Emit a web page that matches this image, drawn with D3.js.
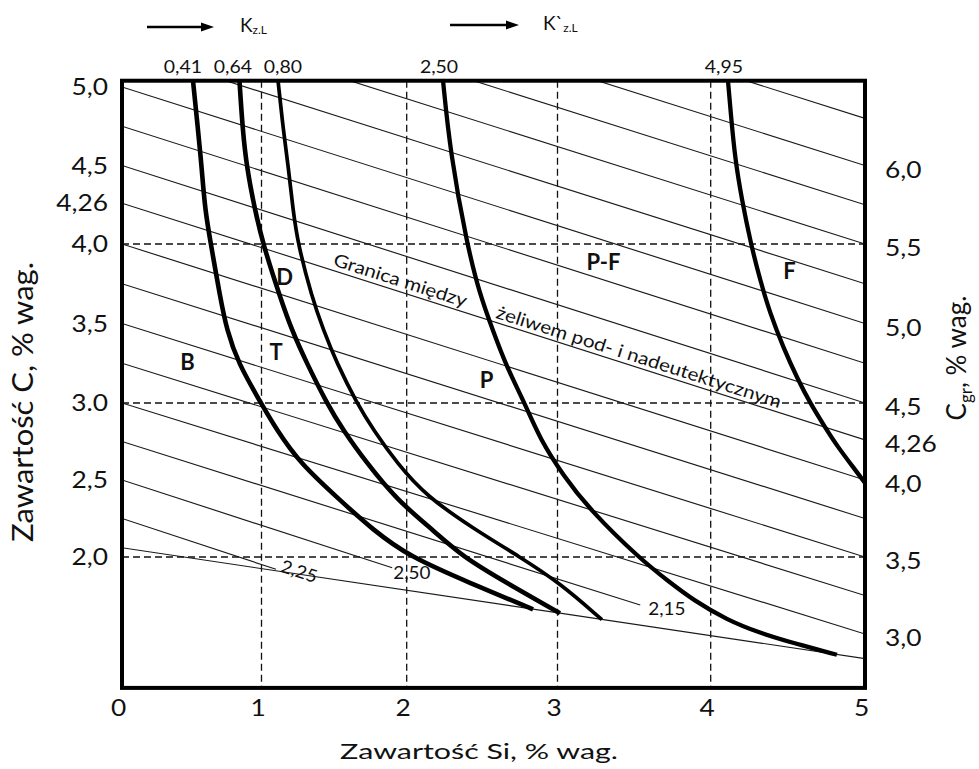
<!DOCTYPE html>
<html>
<head>
<meta charset="utf-8">
<script src="https://cdn.jsdelivr.net/npm/d3@7"></script>
<style>
  html, body { margin: 0; padding: 0; background: #fff; }
  svg { display: block; font-family: Lato, "Open Sans", sans-serif; }
</style>
</head>
<body>
<svg id="chart" width="979" height="769"></svg>
<script>
// ---- axes ----
const siTicks = [0, 1, 2, 3, 4, 5];
const siTickLabels = ["0", "1", "2", "3", "4", "5"];
const cTicks = [5.0, 4.5, 4.26, 4.0, 3.5, 3.0, 2.5, 2.0];
const cTickLabels = ["5,0", "4,5", "4,26", "4,0", "3,5", "3.0", "2,5", "2,0"];
const cgrTicks = [6.0, 5.5, 5.0, 4.5, 4.26, 4.0, 3.5, 3.0];
const cgrTickLabels = ["6,0", "5,5", "5,0", "4,5", "4,26", "4,0", "3,5", "3,0"];
const cgrSiCoef = 0.3;            // Cgr = C + 0.3 * Si

// ---- dashed reference grid ----
const siGrid = [1, 2, 3, 4];
const cGrid = [4.0, 3.0, 2.0];

// ---- lines of constant Cgr ----
const isoCgr = [6.3, 6.0, 5.75, 5.5, 5.25, 5.0, 4.75, 4.5, 4.26, 4.0, 3.75, 3.5, 3.25, 3.0, 2.75, 2.5, 2.25];
// short lines that stop at their value label (Cgr -> Si of the end)
const isoShortCgr = [2.75, 2.5, 2.25];
const isoShortEndSi = [3.54, 1.9, 1.1];
const isoShortLabels = ["2,15", "2,50", "2,25"];

// lower boundary of the field (Si, C)
const lowerBoundary = [[0, 2.06], [5, 1.34]];

// ---- K z.L curves (Si, C) ----
const kLabels = ["0,41", "0,64", "0,80", "2,50", "4,95"];
const kCurve041 = [[0.509,5.04],[0.545,4.726],[0.571,4.49],[0.595,4.217],[0.638,3.994],[0.703,3.669],[0.751,3.459],[0.832,3.252],[0.996,3.0],[1.105,2.825],[1.265,2.61],[1.52,2.387],[1.768,2.175],[2.022,2.0],[2.42,1.831],[2.838,1.66]];
const kCurve064 = [[0.842,5.04],[0.865,4.726],[0.894,4.49],[0.953,4.217],[1.01,4.0],[1.127,3.669],[1.208,3.459],[1.311,3.252],[1.449,3.0],[1.561,2.825],[1.725,2.61],[1.933,2.37],[2.174,2.175],[2.373,2.0],[2.665,1.831],[3.016,1.634]];
const kCurve080 = [[1.114,5.04],[1.15,4.726],[1.185,4.49],[1.217,4.217],[1.251,4.0],[1.346,3.669],[1.426,3.459],[1.518,3.252],[1.656,3.0],[1.771,2.825],[1.932,2.61],[2.133,2.392],[2.45,2.18],[2.751,2.0],[3.016,1.831],[3.29,1.593]];
const kCurve250 = [[2.241,5.04],[2.288,4.587],[2.4,3.994],[2.486,3.679],[2.573,3.453],[2.663,3.226],[2.785,2.994],[2.884,2.766],[3.036,2.532],[3.212,2.305],[3.539,1.987],[3.735,1.834],[3.885,1.721],[4.106,1.591],[4.32,1.506],[4.533,1.442],[4.818,1.365]];
const kCurve495 = [[4.112,5.04],[4.13,4.834],[4.158,4.541],[4.201,4.287],[4.259,4.006],[4.32,3.774],[4.384,3.566],[4.469,3.352],[4.566,3.145],[4.644,3.0],[4.752,2.825],[4.825,2.714],[4.903,2.61],[5.0,2.481]];
const kCurves = [kCurve041, kCurve064, kCurve080, kCurve250, kCurve495];

// ---- structure fields ----
const fieldNames = ["B", "T", "D", "P", "P-F", "F"];
const fieldSi = [0.47, 1.10, 1.16, 2.53, 3.30, 4.51];
const fieldC = [3.255, 3.318, 3.79, 3.142, 3.884, 3.827];

// eutectic boundary caption (runs along Cgr = 4.26)
const eutecticCgr = 4.26;
const eutecticText = ["Granica między", "żeliwem pod- i nadeutektycznym"];
const eutecticStartSi = [1.47, 2.57];

// ------------------------------------------------------------
const svg = d3.select("#chart");
const ink = "#111";

const x = d3.scaleLinear().domain(siTicks).range([122, 261.5, 406.7, 557.5, 710.7, 865]);
const y = d3.scaleLinear().domain([2, 3, 4, 5]).range([557, 403, 244, 87]);
const yR = d3.scaleLinear().domain(y.domain().map(c => c + cgrSiCoef * 5)).range(y.range());

const cTop = 5.04, cBottom = 1.15;
const P = { x0: x(0), x1: x(5), y0: y(cTop), y1: y(cBottom) };

svg.append("defs").append("clipPath").attr("id", "plotClip")
  .append("rect").attr("x", P.x0).attr("y", P.y0)
  .attr("width", P.x1 - P.x0).attr("height", P.y1 - P.y0);

function widen(sel, f) {
  sel.each(function () {
    const L = this.getComputedTextLength();
    d3.select(this).attr("textLength", L * f).attr("lengthAdjust", "spacingAndGlyphs");
  });
}

// dashed grid
const grid = svg.append("g").attr("stroke", ink).attr("stroke-width", 1.3)
  .attr("stroke-dasharray", "7,4").attr("fill", "none");
grid.selectAll("line.v").data(siGrid).join("line").attr("class", "v")
  .attr("x1", d => x(d)).attr("x2", d => x(d)).attr("y1", P.y0).attr("y2", P.y1);
grid.selectAll("line.h").data(cGrid).join("line").attr("class", "h")
  .attr("x1", P.x0).attr("x2", P.x1).attr("y1", d => y(d)).attr("y2", d => y(d));

// constant-Cgr lines
const line = d3.line().x(d => x(d[0])).y(d => y(d[1]));
const endSi = v => { const i = isoShortCgr.indexOf(v); return i < 0 ? 5 : isoShortEndSi[i]; };
const isoG = svg.append("g").attr("clip-path", "url(#plotClip)")
  .attr("fill", "none").attr("stroke", "#1a1a1a").attr("stroke-width", 1.15);
isoG.selectAll("path").data(isoCgr).join("path")
  .attr("d", v => { const e = endSi(v); return line([[0, v], [e, v - cgrSiCoef * e]]); });
isoG.append("path").attr("d", line(lowerBoundary));

// labels at the ends of the short lines
const isoLab = svg.append("g").attr("font-size", 18).attr("fill", ink);
isoShortCgr.forEach((v, i) => {
  const e = isoShortEndSi[i];
  const px = x(e), py = y(v - cgrSiCoef * e);
  const ang = Math.atan2(y(v - cgrSiCoef * e) - y(v), x(e) - x(0)) * 180 / Math.PI;
  const t = isoLab.append("text").text(isoShortLabels[i]);
  if (i === 2) {          // tilted along its line
    t.attr("transform", `translate(${px},${py}) rotate(${ang})`).attr("x", 4).attr("dy", "0.05em");
  } else if (i === 1) {   // hangs below the line end
    t.attr("x", px + 1).attr("y", py - 3).attr("dy", "0.78em");
  } else {
    t.attr("x", px + 8).attr("y", py + 4).attr("dy", "0.35em");
  }
});
widen(isoLab.selectAll("text"), 1.05);

// eutectic caption
const eAng = Math.atan2(y(eutecticCgr - cgrSiCoef * 5) - y(eutecticCgr), x(5) - x(0)) * 180 / Math.PI;
const capLengths = [139, 298];
const capG = svg.append("g").attr("font-size", 18).attr("fill", ink);
eutecticText.forEach((s, i) => {
  const si = eutecticStartSi[i];
  capG.append("text")
    .attr("transform", `translate(${x(si)},${y(eutecticCgr - cgrSiCoef * si)}) rotate(${eAng})`)
    .attr("y", -8).text(s)
    .attr("textLength", capLengths[i]).attr("lengthAdjust", "spacingAndGlyphs");
});

// K curves (B-spline smooths the hand-read points)
const kLine = d3.line().x(d => x(d[0])).y(d => y(d[1])).curve(d3.curveBasis);
const kWidths = [4.6, 4.6, 3.7, 4.3, 4.3];
svg.append("g").attr("fill", "none").attr("stroke", "#000").attr("stroke-linecap", "butt")
  .selectAll("path").data(kCurves).join("path")
  .attr("d", kLine).attr("stroke-width", (d, i) => kWidths[i]);

// K values above the frame, spread so they do not crowd
const kx = kCurves.map(c => x(c[0][0]) - 4);
for (let it = 0; it < 40; it++) {
  for (let i = 0; i < kx.length - 1; i++) {
    const gap = kx[i + 1] - kx[i];
    if (gap < 50) { const p = (50 - gap) / 2; kx[i] -= p; kx[i + 1] += p; }
  }
}
const kLab = svg.append("g").attr("font-size", 18).attr("fill", ink).attr("text-anchor", "middle");
kLab.selectAll("text").data(kLabels).join("text")
  .attr("x", (d, i) => kx[i]).attr("y", 73).text(d => d);
widen(kLab.selectAll("text"), 1.08);

// field letters
svg.append("g").attr("font-size", 22).attr("font-weight", 700).attr("fill", ink)
  .attr("text-anchor", "middle")
  .selectAll("text").data(fieldNames).join("text")
  .attr("x", (d, i) => x(fieldSi[i])).attr("y", (d, i) => y(fieldC[i]))
  .attr("dy", "0.36em").text(d => d);

// frame
svg.append("rect").attr("x", P.x0).attr("y", P.y0)
  .attr("width", P.x1 - P.x0).attr("height", P.y1 - P.y0)
  .attr("fill", "none").attr("stroke", "#000").attr("stroke-width", 4);

// axes
function styleAxis(g) {
  g.select(".domain").remove();
  g.attr("font-family", null).attr("font-size", null);
  g.selectAll("text").attr("font-size", 23.5).attr("fill", ink);
}
const axL = svg.append("g").attr("transform", `translate(${P.x0},0)`)
  .call(d3.axisLeft(y).tickValues(cTicks).tickFormat((d, i) => cTickLabels[i]).tickSize(0).tickPadding(14))
  .call(styleAxis);
widen(axL.selectAll("text"), 1.12);

const axR = svg.append("g").attr("transform", `translate(${P.x1},0)`)
  .call(d3.axisRight(yR).tickValues(cgrTicks).tickFormat((d, i) => cgrTickLabels[i]).tickSize(0).tickPadding(20))
  .call(styleAxis);
axR.selectAll("text").attr("dy", "0.5em");
widen(axR.selectAll("text"), 1.12);

const axB = svg.append("g").attr("transform", `translate(0,${P.y1})`)
  .call(d3.axisBottom(x).tickValues(siTicks).tickFormat((d, i) => siTickLabels[i]).tickSize(0).tickPadding(11))
  .call(styleAxis);
axB.selectAll("text").attr("dx", -4);
widen(axB.selectAll("text"), 1.12);

// axis titles
svg.append("text").attr("x", 479).attr("y", 759).attr("text-anchor", "middle")
  .attr("font-size", 22).attr("fill", ink).text("Zawartość Si, % wag.")
  .attr("textLength", 278).attr("lengthAdjust", "spacingAndGlyphs");

svg.append("text").attr("transform", "translate(33,402) rotate(-90)").attr("text-anchor", "middle")
  .attr("font-size", 28).attr("fill", ink).text("Zawartość C, % wag.")
  .attr("textLength", 280).attr("lengthAdjust", "spacingAndGlyphs");

const rt = svg.append("text").attr("transform", "translate(966,358) rotate(-90)").attr("text-anchor", "middle")
  .attr("font-size", 26).attr("fill", ink);
rt.append("tspan").text("C");
rt.append("tspan").attr("font-size", 17).attr("dy", 6).text("gr");
rt.append("tspan").attr("dy", -6).text(", % wag.");

// K arrows
function arrow(x1, x2, yy) {
  const g = svg.append("g");
  g.append("line").attr("x1", x1).attr("x2", x2 - 10).attr("y1", yy).attr("y2", yy)
    .attr("stroke", "#000").attr("stroke-width", 2.4);
  g.append("path").attr("d", `M${x2 - 13},${yy - 4.5}L${x2},${yy}L${x2 - 13},${yy + 4.5}Z`).attr("fill", "#000");
}
arrow(147, 214, 27);
arrow(450, 519, 25);

function kTitle(xx, yy, main) {
  const t = svg.append("text").attr("x", xx).attr("y", yy).attr("font-size", 19).attr("fill", ink);
  t.append("tspan").text(main);
  t.append("tspan").attr("font-size", 12).attr("dy", 2).text("z.L");
}
kTitle(240, 31.5, "K");
kTitle(543, 30, "K`");
</script>
</body>
</html>
